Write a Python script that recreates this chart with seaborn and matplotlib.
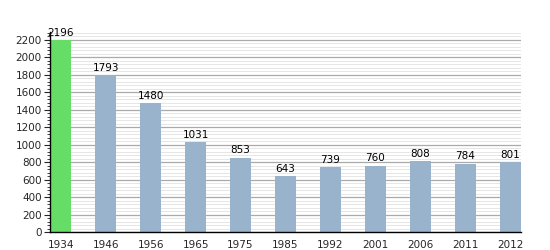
import matplotlib
matplotlib.use("Agg")
import matplotlib.pyplot as plt
import seaborn as sns
import pandas as pd
from matplotlib.ticker import MultipleLocator

years = ["1934", "1946", "1956", "1965", "1975", "1985", "1992", "2001", "2006", "2011", "2012"]
population = [2196, 1793, 1480, 1031, 853, 643, 739, 760, 808, 784, 801]
highlight = ["max", "other", "other", "other", "other", "other", "other", "other", "other", "other", "other"]

df = pd.DataFrame({"year": years, "pop": population, "kind": highlight})

sns.set_style("white")
plt.rcParams['font.family'] = ['DejaVu Sans']

fig = plt.figure(figsize=(5.5, 2.5), dpi=100)
ax = fig.add_axes([50/550, 1-232/250, 471/550, 200/250])

ax.yaxis.set_major_locator(MultipleLocator(200))
ax.yaxis.set_minor_locator(MultipleLocator(40))
ax.grid(which="major", axis="y", color="#aaaaaa", linewidth=0.9, zorder=0)
ax.grid(which="minor", axis="y", color="#e6e6e6", linewidth=0.7, zorder=0)
ax.set_axisbelow(True)

sns.barplot(data=df, x="year", y="pop", hue="kind",
            palette={"max": "#66dd66", "other": "#99b3cc"},
            saturation=1, linewidth=0,
            width=0.46, dodge=False, legend=False, ax=ax, zorder=2)

for i, v in enumerate(population):
    ax.text(i, v + 25, str(v), ha="center", va="bottom", fontsize=7.5, color="black")

ax.set_xlim(-0.24, len(years) - 1 + 0.24)
ax.set_ylim(0, 2290)
ax.set_xlabel("")
ax.set_ylabel("")
for s in ["top", "right"]:
    ax.spines[s].set_visible(False)
ax.spines["left"].set_color("black")
ax.spines["bottom"].set_color("black")
ax.spines["left"].set_linewidth(1)
ax.spines["bottom"].set_linewidth(1)
ax.tick_params(axis="y", which="major", left=True, length=4, width=0.8, labelsize=7.5, pad=2)
ax.tick_params(axis="y", which="minor", left=True, length=2, width=0.6)
ax.tick_params(axis="x", bottom=False, labelsize=7.5, pad=2)

fig.savefig("out.png", dpi=100)
